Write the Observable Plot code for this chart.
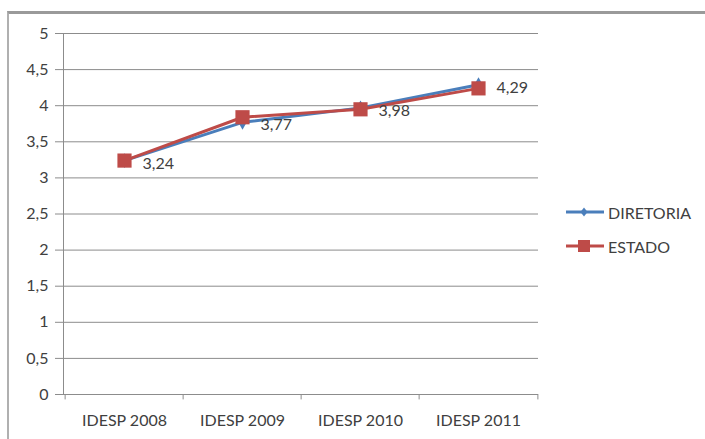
<!DOCTYPE html>
<html><head><meta charset="utf-8">
<script src="https://cdn.jsdelivr.net/npm/d3@7"></script>
<script src="https://cdn.jsdelivr.net/npm/@observablehq/plot@0.6"></script>
<style>
body{margin:0;background:#fff;}
#wrap{position:relative;width:705px;height:439px;overflow:hidden;font-family:Lato,"Open Sans",sans-serif;}
#border{position:absolute;left:7px;top:11px;width:760px;height:500px;border-top:3px solid #9a9a9a;border-left:2px solid #b0b0b0;}
#chart{position:absolute;left:0;top:0;}
#legend{position:absolute;left:565px;top:202px;font-size:16px;color:#404040;}
.item{display:flex;align-items:center;height:20px;margin-bottom:14px;}
.item svg{margin-right:3px;}
</style></head>
<body>
<div id="wrap"><div id="border"></div><div id="chart"></div><div id="legend"></div></div>
<script>
const categories = ["IDESP 2008","IDESP 2009","IDESP 2010","IDESP 2011"];
const diretoria = [3.24, 3.77, 3.97, 4.29];
const estado = [3.24, 3.84, 3.95, 4.24];
const labels = ["3,24","3,77","3,98","4,29"];
const yTicks = [0,0.5,1,1.5,2,2.5,3,3.5,4,4.5,5];
const seriesNames = ["DIRETORIA","ESTADO"];
const colors = {DIRETORIA:"#4a7ebb", ESTADO:"#be4b48"};

const dir = categories.map((c,i)=>({cat:c, v:diretoria[i], label:labels[i]}));
const est = categories.map((c,i)=>({cat:c, v:estado[i]}));

const W = 705, H = 439, mL = 63, mR = 167, mT = 33, mB = 45;
const step = (W - mL - mR) / categories.length;
const fmt = d => String(d).replace(".", ",");

const plot = Plot.plot({
  width: W, height: H,
  marginLeft: mL, marginRight: mR, marginTop: mT, marginBottom: mB,
  style: {fontFamily: "Lato, 'Open Sans', sans-serif", fontSize: "16px", color: "#404040", background: "transparent", overflow: "visible"},
  x: {type: "point", domain: categories, padding: 0.5, label: null},
  y: {domain: [0,5], label: null},
  marks: [
    Plot.ruleY(yTicks, {stroke: "#8c8c8c", strokeWidth: 1}),
    Plot.frame({anchor: "left", stroke: "#8c8c8c"}),
    Plot.axisY(yTicks, {tickFormat: fmt, tickSize: 8, tickPadding: 7, stroke: "#8c8c8c", fill: "#404040", fontSize: 16}),
    Plot.axisX({tickSize: 0, tickPadding: 20, fill: "#404040", fontSize: 16}),
    Plot.ruleX(categories, {x: d => d, dx: -step/2, y1: 0, y2: -0.075, stroke: "#8c8c8c"}),
    Plot.ruleX([categories[categories.length-1]], {x: d => d, dx: step/2, y1: 0, y2: -0.075, stroke: "#8c8c8c"}),
    Plot.line(dir, {x: "cat", y: "v", stroke: colors.DIRETORIA, strokeWidth: 3}),
    Plot.dot(dir, {x: "cat", y: "v", symbol: "diamond", r: 4.5, fill: colors.DIRETORIA, stroke: "none"}),
    Plot.line(est, {x: "cat", y: "v", stroke: colors.ESTADO, strokeWidth: 3}),
    Plot.dot(est, {x: "cat", y: "v", symbol: "square", r: 8, fill: colors.ESTADO, stroke: "none"}),
    Plot.text(dir, {x: "cat", y: "v", text: "label", dx: 18, dy: 3, textAnchor: "start", fill: "#404040", fontSize: 16})
  ]
});
document.getElementById("chart").append(plot);

const lg = document.getElementById("legend");
seriesNames.forEach(name => {
  const it = document.createElement("div");
  it.className = "item";
  const sym = name === "ESTADO"
    ? `<rect x="13" y="3" width="12" height="12" fill="${colors[name]}"/>`
    : `<path d="M19 4.5 L22.5 9 L19 13.5 L15.5 9 Z" fill="${colors[name]}"/>`;
  it.innerHTML = `<svg width="40" height="18"><line x1="1" x2="39" y1="9" y2="9" stroke="${colors[name]}" stroke-width="3"/>${sym}</svg><span>${name}</span>`;
  lg.append(it);
});
</script>
</body></html>
